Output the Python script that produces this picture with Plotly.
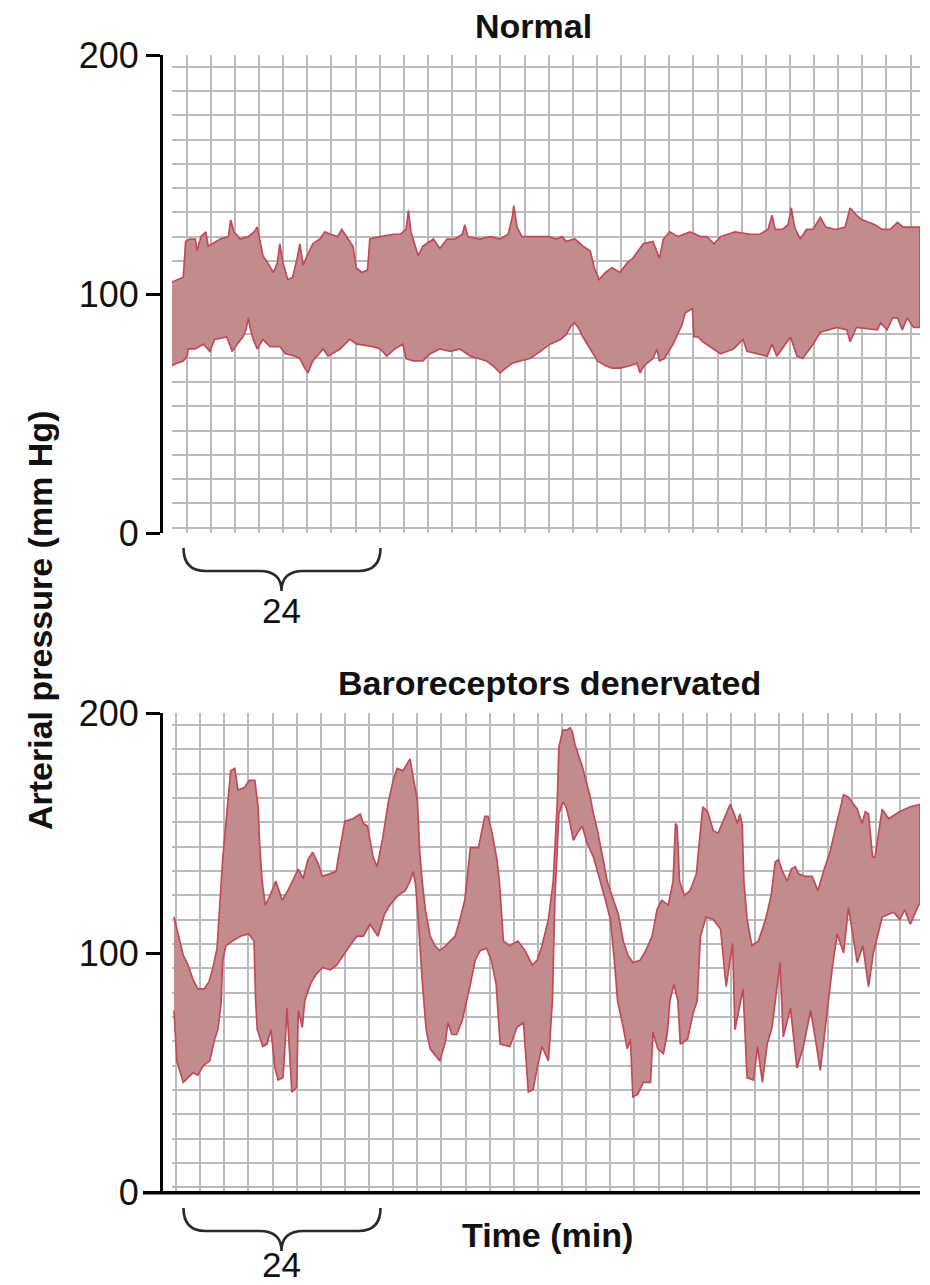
import plotly.graph_objects as go

# ---------------- data (time in min, pressure in mm Hg) ----------------
normal_upper_t = [0.0, 0.7, 1.4, 1.7, 2.2, 2.9, 3.1, 3.6, 4.2, 4.5, 5.0, 6.0, 7.0, 7.3, 7.7, 8.5, 9.5, 10.2, 10.6,
                  10.9, 11.3, 11.9, 12.6, 13.1, 13.4, 13.8, 14.4, 15.0, 15.5, 15.9, 16.3, 16.8, 17.5, 18.4, 19.0,
                  19.7, 20.6, 21.1, 21.9, 22.5, 22.9, 23.6, 24.3, 24.6, 25.9, 27.5, 28.4, 29.1, 29.4, 29.7, 30.6,
                  31.2, 32.5, 33.3, 34.2, 35.2, 36.1, 36.4, 36.8, 38.3, 39.6, 40.8, 41.8, 42.3, 42.5, 42.9, 43.5,
                  45.1, 46.8, 47.8, 48.5, 49.0, 50.1, 51.1, 52.0, 52.5, 53.1, 53.9, 54.7, 55.7, 56.6, 57.3, 58.0,
                  58.6, 59.8, 60.6, 61.1, 61.9, 62.9, 64.4, 65.7, 66.5, 67.4, 68.2, 70.0, 71.9, 73.1, 74.1, 74.6,
                  75.0, 75.9, 76.6, 77.0, 77.4, 78.1, 78.9, 79.7, 80.6, 81.3, 82.5, 83.7, 84.3, 85.1, 85.8, 86.6,
                  87.4, 88.3, 89.3, 90.2, 90.9, 91.8, 93.0]
normal_upper_p = [105, 106, 107, 122, 123, 123, 118, 124, 126, 120, 121, 123, 124, 131, 126, 123, 124, 126, 128,
                  123, 116, 113, 109, 113, 121, 113, 106, 107, 114, 121, 112, 116, 121, 123, 126,
                  125, 124, 127, 123, 120, 111, 109, 110, 123, 124, 125, 125, 127, 135, 126, 116,
                  120, 123, 119, 123, 123, 125, 129, 124, 123, 124, 123, 125, 132, 137, 128, 124,
                  124, 124, 123, 124, 122, 123, 120, 118, 111, 106, 109, 111, 109, 113, 115, 118,
                  121, 122, 115, 123, 126, 124, 126, 124, 124, 121, 124, 126, 125, 125, 127, 133,
                  127, 127, 129, 136, 128, 123, 127, 127, 132, 128, 127, 128, 136, 133, 131, 130,
                  129, 127, 127, 130, 128, 128, 128]
normal_lower_t = [0.0, 0.6, 1.4, 1.9, 2.0, 2.9, 3.9, 4.4, 4.7, 5.3, 6.8, 7.5, 8.1, 8.8, 9.2, 9.5, 9.7, 10.1, 10.6,
                  11.3, 12.2, 13.4, 14.1, 15.3, 15.9, 16.5, 16.9, 17.5, 18.8, 19.4, 20.9, 22.1, 23.0, 25.0, 25.9,
                  26.7, 27.7, 28.7, 29.1, 30.0, 31.2, 32.1, 33.3, 34.6, 35.8, 37.1, 38.1, 39.1, 39.9, 40.8, 41.5,
                  42.3, 43.3, 44.5, 45.8, 47.0, 48.3, 49.0, 49.5, 50.0, 50.5, 51.1, 52.0, 52.9, 53.9, 54.7, 55.7,
                  57.0, 57.8, 58.2, 58.7, 59.8, 60.3, 60.6, 61.2, 62.3, 63.4, 63.8, 64.7, 64.9, 65.4, 66.0, 68.2,
                  69.8, 71.0, 71.5, 74.0, 74.6, 75.2, 76.9, 77.7, 78.4, 79.7, 80.6, 82.7, 83.9, 84.3, 85.1, 87.7,
                  88.1, 88.9, 89.6, 90.2, 90.8, 91.4, 92.2, 93.0]
normal_lower_p = [70, 71, 72, 74, 77, 77, 79, 77, 76, 81, 82, 76, 79, 82, 85, 90, 86, 81, 77,
                  81, 78, 78, 75, 74, 73, 69, 67, 72, 77, 74, 77, 81, 79, 78, 77,
                  74, 77, 79, 73, 72, 72, 75, 77, 76, 77, 74, 73, 72, 70, 67, 69,
                  71, 72, 73, 76, 79, 81, 83, 86, 88, 86, 82, 77, 72, 70, 69, 69,
                  70, 71, 67, 70, 73, 77, 72, 73, 79, 87, 92, 94, 82, 82, 80, 75,
                  77, 81, 76, 74, 79, 74, 82, 74, 73, 79, 84, 86, 85, 80, 86, 85,
                  88, 85, 90, 90, 85, 90, 86, 86]

denerv_upper_t = [0.25, 0.75, 1.4, 2.0, 2.6, 3.2, 4.0, 4.6, 5.1, 5.6, 6.0, 6.3, 6.7, 7.1, 7.3, 7.8, 8.2, 9.0, 9.6,
                  10.3, 10.7, 10.9, 11.2, 11.6, 12.2, 12.9, 13.7, 14.4, 15.0, 15.7, 16.3, 16.9, 17.5, 18.2, 18.7,
                  19.7, 20.4, 20.9, 21.5, 22.5, 23.4, 23.8, 24.3, 25.0, 25.5, 26.2, 26.9, 27.5, 28.0, 28.7, 29.6,
                  30.0, 30.5, 30.8, 31.1, 31.5, 32.1, 32.7, 33.3, 34.0, 34.6, 35.2, 35.8, 36.4, 37.1, 38.1, 38.9,
                  39.3, 39.8, 40.4, 40.7, 41.2, 42.0, 43.0, 43.9, 44.8, 45.4, 46.0, 46.8, 47.4, 47.9, 48.1, 48.6,
                  49.1, 49.5, 49.8, 50.1, 51.0, 51.4, 52.0, 52.4, 52.9, 53.6, 54.1, 54.7, 55.5, 56.1, 56.7, 57.3,
                  58.2, 58.9, 59.7, 60.3, 60.9, 61.7, 62.3, 62.6, 62.8, 63.1, 63.7, 64.4, 65.2, 65.7, 66.0, 66.6,
                  67.3, 67.9, 68.6, 69.4, 69.9, 70.3, 70.6, 70.9, 71.1, 71.5, 72.1, 72.9, 73.8, 74.5, 75.0, 75.4,
                  75.9, 76.5, 77.0, 77.5, 77.9, 78.7, 79.6, 80.3, 81.1, 81.8, 82.7, 83.5, 84.1, 85.2, 85.8, 86.2,
                  86.6, 87.1, 87.4, 88.3, 89.1, 90.5, 91.8, 93.0]
denerv_upper_p = [115, 108, 99, 95, 89, 85, 85, 88, 94, 102, 122, 139, 154, 170, 176, 177, 168, 169, 172,
                  172, 161, 145, 130, 120, 124, 130, 122, 126, 130, 135, 131, 139, 142, 137, 132,
                  133, 134, 144, 155, 156, 158, 154, 153, 140, 136, 148, 163, 172, 177, 176, 181,
                  173, 164, 142, 130, 118, 107, 103, 101, 103, 105, 107, 114, 122, 144, 144, 157,
                  157, 150, 139, 130, 105, 103, 105, 101, 95, 97, 103, 114, 130, 163, 186, 193,
                  193, 194, 192, 187, 178, 173, 165, 158, 151, 139, 130, 124, 116, 105, 99, 96,
                  97, 101, 107, 118, 122, 120, 130, 154, 153, 130, 124, 126, 133, 151, 161, 159,
                  151, 150, 156, 162, 158, 154, 158, 153, 130, 114, 103, 105, 114, 124, 138, 139,
                  134, 130, 135, 136, 133, 132, 132, 126, 135, 142, 155, 166, 165, 160, 154, 159,
                  158, 140, 140, 160, 156, 159, 161, 162]
denerv_lower_t = [0.25, 0.6, 1.4, 2.0, 2.6, 3.2, 3.9, 4.7, 5.3, 5.7, 6.1, 6.3, 6.7, 7.5, 8.5, 9.5, 10.2, 10.4, 10.6,
                  11.3, 11.8, 12.3, 12.8, 13.2, 13.8, 14.1, 14.3, 14.6, 14.9, 15.5, 15.7, 16.2, 16.5, 17.2, 17.9,
                  18.7, 19.7, 20.5, 21.3, 22.1, 23.0, 23.8, 24.6, 25.6, 26.4, 27.1, 28.1, 29.0, 29.6, 30.0, 30.3,
                  30.7, 31.1, 31.6, 32.1, 33.3, 34.0, 34.3, 34.8, 35.4, 36.1, 36.4, 37.1, 37.7, 38.3, 39.1, 39.7,
                  40.3, 40.5, 40.8, 42.0, 42.9, 43.7, 44.3, 44.9, 45.4, 46.0, 46.8, 47.3, 47.6, 48.1, 48.6, 49.0,
                  49.5, 49.9, 50.4, 51.0, 51.6, 52.4, 53.2, 53.9, 54.5, 55.0, 55.4, 56.1, 56.6, 57.0, 57.3, 57.9,
                  58.6, 59.5, 59.8, 60.4, 61.1, 61.6, 61.9, 62.4, 62.9, 63.2, 64.1, 64.8, 65.3, 65.7, 66.4, 67.3,
                  68.2, 68.9, 69.7, 70.0, 71.0, 71.5, 72.3, 72.8, 73.4, 74.0, 74.6, 75.6, 76.0, 76.9, 77.7, 78.5,
                  79.4, 80.0, 80.6, 81.2, 82.1, 82.7, 83.5, 84.1, 85.2, 85.9, 86.6, 87.2, 88.3, 89.7, 90.5, 91.1,
                  91.8, 92.7, 93.0]
denerv_lower_p = [76, 55, 46, 48, 50, 49, 53, 55, 64, 68, 79, 97, 103, 105, 107, 108, 105, 80, 68,
                  61, 62, 68, 52, 47, 48, 64, 77, 59, 42, 44, 76, 69, 80, 87, 91,
                  94, 93, 95, 99, 103, 107, 107, 112, 107, 116, 120, 124, 126, 130, 134, 128,
                  110, 89, 68, 60, 55, 63, 71, 66, 66, 72, 77, 87, 97, 101, 102, 97,
                  87, 80, 62, 61, 69, 71, 42, 43, 52, 61, 55, 80, 122, 158, 163, 161,
                  154, 147, 150, 153, 146, 140, 130, 122, 114, 97, 80, 69, 60, 64, 40, 41,
                  46, 46, 67, 60, 58, 67, 80, 87, 80, 62, 64, 75, 80, 107, 115, 114,
                  110, 86, 104, 68, 85, 48, 47, 61, 46, 62, 69, 96, 65, 77, 52, 61,
                  76, 64, 51, 69, 94, 108, 100, 119, 96, 103, 86, 100, 115, 117, 114, 118,
                  112, 119, 121]

y_ticks = [0, 100, 200]
bracket_label = "24"

# ---------------- styling ----------------
W, H = 930, 1285
FILL = "#c28c8e"
EDGE = "#c24a58"
GRID = "#bababa"
FONT = "Liberation Sans, Arial, Helvetica, sans-serif"
INK = "#111111"

# chart-paper grid (independent of the labelled ticks)
paper_rows = [round(2.2 + 10.15 * k, 2) for k in range(20)]


def fx(p):
    return p / W


def fy(p):
    return 1 - p / H


fig = go.Figure()

fig.add_trace(go.Scatter(
    x=normal_upper_t + normal_lower_t[::-1],
    y=normal_upper_p + normal_lower_p[::-1],
    mode="lines", fill="toself", fillcolor=FILL,
    line=dict(color=EDGE, width=1.7), xaxis="x", yaxis="y",
    hoverinfo="skip", showlegend=False))

fig.add_trace(go.Scatter(
    x=denerv_upper_t + denerv_lower_t[::-1],
    y=denerv_upper_p + denerv_lower_p[::-1],
    mode="lines", fill="toself", fillcolor=FILL,
    line=dict(color=EDGE, width=1.7), xaxis="x2", yaxis="y2",
    hoverinfo="skip", showlegend=False))

grid_x = dict(range=[0, 93], showgrid=True, gridcolor=GRID, gridwidth=2.4, dtick=3,
              showticklabels=False, ticks="", zeroline=False, showline=False, fixedrange=True,
              automargin=False)
label_y = dict(range=[0, 200], anchor="free", position=fx(161), showline=True, linecolor="black",
               linewidth=3, ticks="outside", ticklen=14, tickwidth=3, tickcolor="black",
               tickmode="array", tickvals=y_ticks, ticktext=[str(v) for v in y_ticks],
               tickfont=dict(size=36, color=INK, family=FONT), showgrid=False, zeroline=False,
               minor=dict(tickmode="array", tickvals=paper_rows, showgrid=True, gridcolor=GRID,
                          gridwidth=2.4, ticks=""),
               fixedrange=True, automargin=False)

fig.update_layout(
    width=W, height=H, autosize=False,
    margin=dict(l=0, r=0, t=0, b=0, pad=0),
    paper_bgcolor="white", plot_bgcolor="rgba(0,0,0,0)",
    font=dict(family=FONT, color=INK),
    xaxis=dict(domain=[fx(172), fx(920)], anchor="y", tick0=1.83, **grid_x),
    yaxis=dict(domain=[fy(533), fy(55)], **label_y),
    xaxis2=dict(domain=[fx(172), fx(920)], anchor="y2", tick0=0.5, **grid_x),
    yaxis2=dict(domain=[fy(1192.7), fy(713.3)], **label_y),
)

# bottom x-axis line of lower panel
fig.add_shape(type="line", xref="paper", yref="paper", x0=fx(143), x1=fx(920),
              y0=fy(1192.7), y1=fy(1192.7), line=dict(color="black", width=3.5), layer="above")


def bracket(ytop):
    xl, xc, xr = 183.5, 281.5, 380.5
    ym, yb = ytop + 23, ytop + 43
    pts = [("M", xl, ytop), ("Q", xl, ym), ("", xl + 22, ym), ("L", xc - 22, ym),
           ("Q", xc, ym), ("", xc, yb), ("Q", xc, ym), ("", xc + 22, ym),
           ("L", xr - 22, ym), ("Q", xr, ym), ("", xr, ytop)]
    s = ""
    for cmd, x, y in pts:
        s += f"{cmd}{fx(x):.5f},{fy(y):.5f} "
    return s.strip()


for ytop in (548, 1208):
    fig.add_shape(type="path", xref="paper", yref="paper", path=bracket(ytop),
                  line=dict(color="#2a2a2a", width=2.6))

annos = [
    dict(text="<b>Normal</b>", x=fx(533), y=fy(26), size=34),
    dict(text="<b>Baroreceptors denervated</b>", x=fx(549), y=fy(683), size=34),
    dict(text="<b>Time (min)</b>", x=fx(547), y=fy(1235), size=34),
    dict(text=bracket_label, x=fx(281.5), y=fy(610), size=35),
]
for a in annos:
    fig.add_annotation(text=a["text"], x=a["x"], y=a["y"], xref="paper", yref="paper",
                       showarrow=False, xanchor="center", yanchor="middle",
                       font=dict(size=a["size"], family=FONT, color=INK))

fig.add_annotation(text=bracket_label, x=fx(281.5), y=fy(1285), xref="paper", yref="paper",
                   showarrow=False, xanchor="center", yanchor="bottom", borderpad=0,
                   font=dict(size=35, family=FONT, color=INK))

fig.add_annotation(text="<b>Arterial pressure (mm Hg)</b>", x=fx(40), y=fy(621), xref="paper",
                   yref="paper", showarrow=False, textangle=-90, xanchor="center",
                   yanchor="middle", font=dict(size=34, family=FONT, color=INK))

fig.write_html("out.html", config={"displayModeBar": False},
               post_script="document.body.style.margin='0px';")
